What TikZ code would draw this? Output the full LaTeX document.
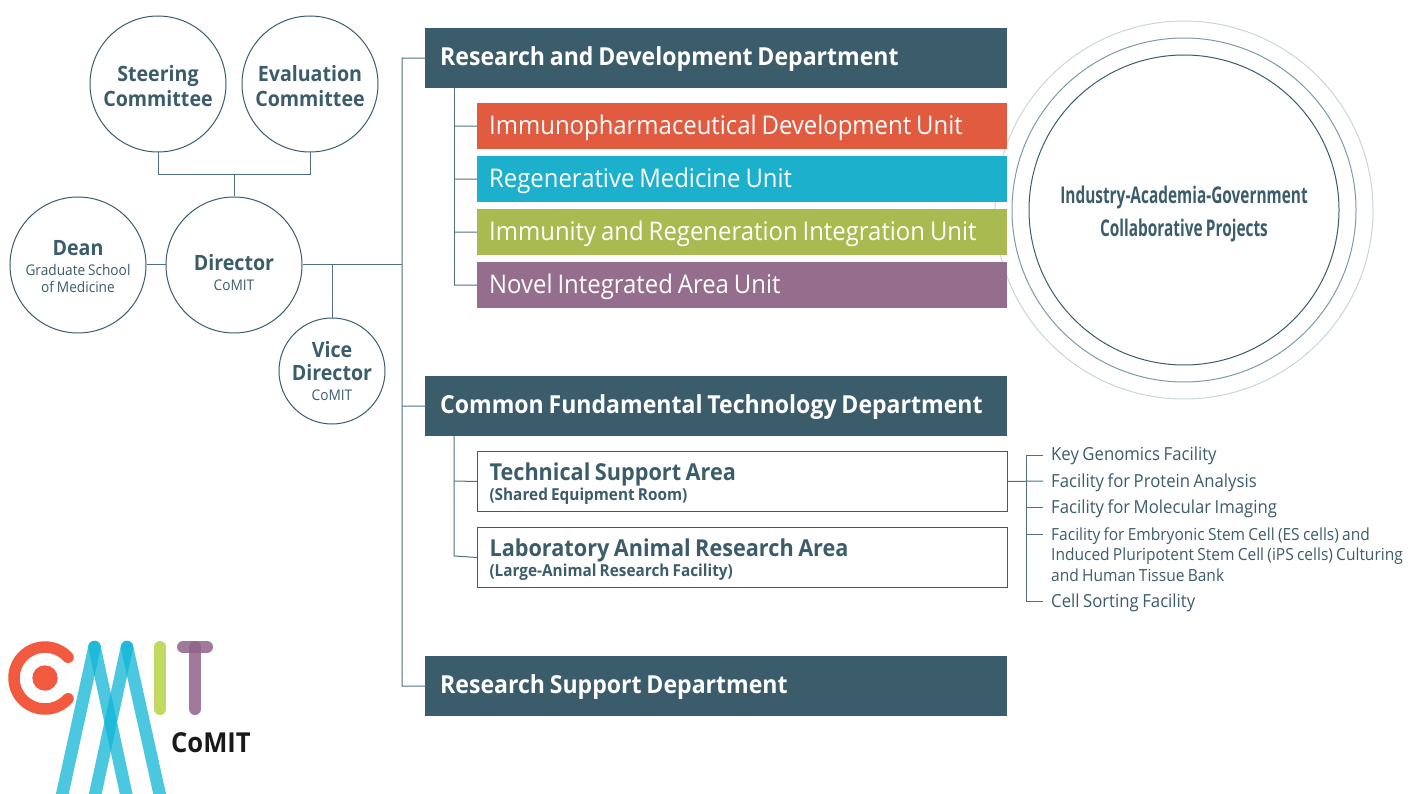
\documentclass[tikz,border=0pt]{standalone}
\usepackage{xcolor}
\usepackage{fontspec}
\usepackage{tikz}
\setmainfont[FakeStretch=0.93, WordSpace=0.8]{Open Sans}
\newfontfamily\narrowfont[FakeStretch=0.67, WordSpace=0.8]{Open Sans}

\definecolor{slate}{HTML}{3B5C6B}
\definecolor{wire}{HTML}{4F7080}
\definecolor{redunit}{HTML}{E15B40}
\definecolor{blueunit}{HTML}{1DB0CC}
\definecolor{greenunit}{HTML}{A9BB50}
\definecolor{purpleunit}{HTML}{966E8D}
\definecolor{ringpale}{HTML}{C9D5DC}
\definecolor{ringmid}{HTML}{7F99A6}
\definecolor{logored}{HTML}{F15A3E}
\definecolor{logoblue}{HTML}{10B4D6}
\definecolor{logogreen}{HTML}{C2D95F}
\definecolor{logopurple}{HTML}{8F6289}

\newcommand{\bigname}{\fontsize{21.1}{25}\selectfont\bfseries}
\newcommand{\smallname}{\fontsize{14.7}{17}\selectfont}
\newcommand{\areatitle}{\fontsize{23.3}{26}\selectfont\bfseries}
\newcommand{\lift}[1]{\rule{0pt}{#1pt}}
\newcommand{\tightspace}{\spaceskip=0pt\relax}

\tikzset{
	wired/.style={color=wire, line width=1},
	person/.style={circle, draw=slate, line width=1, fill=white, text=slate, align=center, inner sep=0},
	dept/.style={anchor=north west, fill=slate, text=white, minimum width=582, minimum height=60, text width=552, text height=18, text depth=3, inner xsep=15, inner ysep=0, align=left, font=\fontsize{24.8}{28}\selectfont\bfseries},
	unitbar/.style={anchor=north west, minimum width=530, minimum height=46, text width=506, text height=19, text depth=3, inner xsep=12, inner ysep=0, align=left, text=white, font=\fontsize{25.7}{29}\selectfont},
	areabox/.style={anchor=north west, draw=slate, line width=1, minimum width=530, minimum height=60, text width=506, inner xsep=12, inner ysep=0, align=left, text=slate, font=\fontsize{16.5}{20}\selectfont\bfseries},
	facility/.style={anchor=base west, text=slate, inner sep=0, align=left, font=\fontsize{18}{20.5}\selectfont},
}

\begin{document}
\begin{tikzpicture}[x=1pt, y=-1pt]
\useasboundingbox (0,0) rectangle (1418,794);

% rings behind the boxes
\node[circle, draw=ringpale, line width=1, minimum size=378, inner sep=0] (ringa) at (1184,210) {};
\node[circle, draw=ringmid, line width=1, minimum size=344, inner sep=0] (ringb) at (1184,210) {};
\node[circle, draw=slate, line width=1, minimum size=310, inner sep=0, text=slate, align=center,
	font=\narrowfont\fontsize{23}{33}\selectfont\bfseries] (projects) at (1184,210) {\lift{25}Industry-Academia-Government\\Collaborative Projects};

% people
\node[person, minimum size=136, font=\bigname] (steering) at (158,84) {\lift{20}Steering\\Committee};
\node[person, minimum size=136, font=\bigname] (evaluation) at (310,84) {\lift{20}Evaluation\\Committee};
\node[person, minimum size=136, font=\smallname] (dean) at (78,265) {\bigname\lift{18}Dean\\[3pt]\smallname Graduate School\\\smallname of Medicine};
\node[person, minimum size=136, font=\smallname] (director) at (234,265) {\bigname\lift{32}Director\\[3pt]\smallname CoMIT};
\node[person, minimum size=106, font=\fontsize{14.7}{23}\selectfont] (vice) at (332,371) {\bigname Vice\\\bigname Director\\[-3pt]\smallname CoMIT};

% departments
\node[dept] (rd) at (425,28) {\tightspace Research and Development Department};
\node[dept] (common) at (425,376) {\tightspace Common Fundamental Technology Department};
\node[dept] (support) at (425,656) {\tightspace Research Support Department};

\foreach \name/\col/\y/\txt in {immuno/redunit/103/Immunopharmaceutical Development Unit,
	regen/blueunit/156/Regenerative Medicine Unit,
	integ/greenunit/209/Immunity and Regeneration Integration Unit,
	novel/purpleunit/262/Novel Integrated Area Unit}{
	\node[unitbar, fill=\col] (\name) at (477,\y) {\tightspace\txt};
	\coordinate (stub\name) at (454,\y+23);
	\draw[wired] (stub\name)--(\name.west);
}

\node[areabox] (tech) at (477,451) {\tightspace{\areatitle\lift{22}Technical Support Area}\\(Shared Equipment Room)};
\node[areabox] (animal) at (477,527) {\tightspace{\areatitle\lift{22}Laboratory Animal Research Area}\\(Large-Animal Research Facility)};

% facilities
\node[facility] (keygen) at (1051,460) {Key Genomics Facility};
\node[facility] (protein) at (1051,487) {Facility for Protein Analysis};
\node[facility] (imaging) at (1051,513) {Facility for Molecular Imaging};
\node[facility, font=\fontsize{16.7}{20.5}\selectfont] (stemcell) at (1051,581) {Facility for Embryonic Stem Cell (ES cells) and\\Induced Pluripotent Stem Cell (iPS cells) Culturing\\and Human Tissue Bank};
\node[facility] (sorting) at (1051,607) {Cell Sorting Facility};

% connectors
\coordinate (joint) at (234,175);
\coordinate (trunktop) at (402,58);
\coordinate (trunkmid) at (402,265);
\coordinate (trunkcommon) at (402,406);
\coordinate (trunkend) at (402,686);
\coordinate (vicejoint) at (332,265);

\draw[wired] (steering.south)|-(joint);
\draw[wired] (evaluation.south)|-(joint);
\draw[wired] (joint)--(director.north);
\draw[wired] (dean.east)--(director.west);
\draw[wired] (director.east)--(trunkmid);
\draw[wired] (vicejoint)--(vice.north);
\draw[wired] (rd.west)--(trunktop)--(trunkend)--(support.west);
\draw[wired] (trunkcommon)--(common.west);

\coordinate (rdfoot) at (454,88);
\coordinate (rdend) at (454,285);
\coordinate (commonfoot) at (454,436);
\coordinate (commonend) at (454,556);
\coordinate (techstub) at (454,481);
\draw[wired] (rdfoot)--(rdend);
\draw[wired] (commonfoot)--(commonend)--(animal.west);
\draw[wired] (techstub)--(tech.west);

\coordinate (factop) at (1026,455);
\coordinate (facbot) at (1026,601);
\coordinate (facmid) at (1043,481);
\coordinate (factopend) at (1043,455);
\coordinate (facbotend) at (1043,601);
\draw[wired] (tech.east)--(facmid);
\draw[wired] (factopend)--(factop)--(facbot)--(facbotend);
\foreach \y in {507,534}{
	\draw[wired] (1026,\y)--(1043,\y);
}

% logo
\begin{scope}
\clip (0,630) rectangle (270,794);
\draw[color=logored, line width=11.5, line cap=round] (45,678) ++(42:31) arc (42:318:31);
\fill[color=logored] (45,678) circle (12.7);
\foreach \a/\b in {94.5/61,94.5/127.5,127/94,127/161}{
	\draw[color=logoblue, opacity=0.75, line width=12.5, line cap=round] (\a,647)--(\b,800);
}
\draw[color=logogreen, line width=12, line cap=round] (160,647)--(160,709);
\draw[color=logopurple, opacity=0.85, line width=12, line cap=round] (183,647)--(207,647);
\draw[color=logopurple, opacity=0.85, line width=12, line cap=round] (195,647)--(195,709);
\end{scope}
\node[anchor=base west, inner sep=0, text=black!90, font=\fontsize{27.5}{30}\selectfont\bfseries] (brand) at (171,752) {CoMIT};

\end{tikzpicture}
\end{document}
